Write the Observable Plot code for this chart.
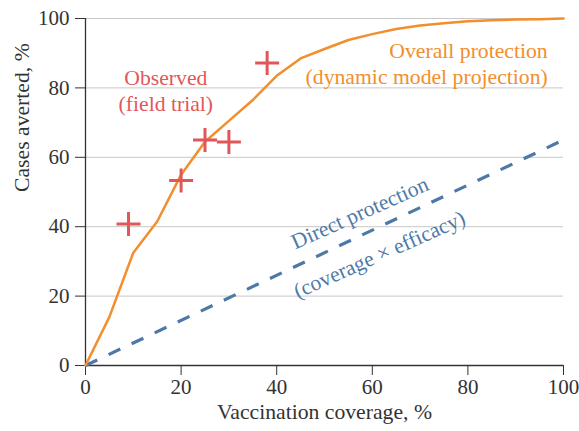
<!DOCTYPE html>
<html>
<head>
<meta charset="utf-8">
<script src="https://cdn.jsdelivr.net/npm/d3@7"></script>
<script src="https://cdn.jsdelivr.net/npm/@observablehq/plot@0.6"></script>
<style>
  html, body { margin: 0; padding: 0; background: #fff; }
  svg { display: block; }
  svg, svg text, svg g { font-family: "Times New Roman", Tinos, "Liberation Serif", "DejaVu Serif", "Noto Serif", serif !important; }
</style>
</head>
<body>
<div id="chart"></div>
<script>
// Overall protection (dynamic model projection)
const coverage = [0, 5, 10, 15, 20, 25, 30, 35, 40, 45, 50, 55, 60, 65, 70, 75, 80, 85, 90, 95, 100];
const overall  = [0, 14, 32.5, 41.5, 55, 64.5, 70.5, 76.5, 83.5, 88.5, 91.2, 93.8, 95.5, 97, 98, 98.6, 99.2, 99.5, 99.7, 99.8, 100];
// Direct protection (coverage x efficacy)
const directX = [0, 100];
const directY = [0, 65];
// Observed (field trial)
const obsX = [9, 20, 25, 30, 38];
const obsY = [40.8, 53.3, 65, 64.4, 87.2];
// Ticks
const xTicks = [0, 20, 40, 60, 80, 100];
const yTicks = [0, 20, 40, 60, 80, 100];
const gridTicks = [20, 40, 60, 80, 100];
// Labels
const xLabel = "Vaccination coverage, %";
const yLabel = "Cases averted, %";
const overallLabel = "Overall protection\n(dynamic model projection)";
const observedLabel = "Observed\n(field trial)";
const directLabel1 = "Direct protection";
const directLabel2 = "(coverage \u00d7 efficacy)";

const ORANGE = "#f28e2b", RED = "#e15759", BLUE = "#4e79a7";
const FONT = "'Times New Roman', Tinos, 'Liberation Serif', 'DejaVu Serif', 'Noto Serif', serif";
const FS = 21.7;

const overallData = coverage.map((c, i) => ({x: c, y: overall[i]}));
const directData = directX.map((c, i) => ({x: c, y: directY[i]}));
const obsData = obsX.map((c, i) => ({x: c, y: obsY[i]}));

const plusSymbol = {
  draw(context, size) {
    const r = Math.sqrt(size / Math.PI);
    context.moveTo(-r, 0); context.lineTo(r, 0);
    context.moveTo(0, -r); context.lineTo(0, r);
  }
};

const chart = Plot.plot({
  width: 579,
  height: 431,
  marginLeft: 85,
  marginRight: 16,
  marginTop: 18,
  marginBottom: 66,
  style: {fontFamily: FONT, fontSize: "21px", color: "#333", background: "#fff"},
  x: {domain: [0, 100], ticks: xTicks, tickSize: 10, tickPadding: 4, label: null},
  y: {domain: [0, 100], ticks: yTicks, tickSize: 10, tickPadding: 6, label: null},
  marks: [
    Plot.ruleY(gridTicks, {stroke: "#c8c8c8", strokeWidth: 1}),
    Plot.ruleY([0], {stroke: "#333", strokeWidth: 1.3}),
    Plot.ruleX([0], {stroke: "#333", strokeWidth: 1.3}),
    Plot.line(directData, {x: "x", y: "y", stroke: BLUE, strokeWidth: 3.2, strokeDasharray: "13,12.5", strokeLinecap: "butt"}),
    Plot.line(overallData, {x: "x", y: "y", stroke: ORANGE, strokeWidth: 2.5}),
    Plot.dot(obsData, {x: "x", y: "y", symbol: plusSymbol, r: 12, fill: "none", stroke: RED, strokeWidth: 3, strokeLinecap: "butt"}),
    Plot.text([observedLabel], {x: 16.8, y: 79.5, text: d => d, fill: RED, textAnchor: "middle", lineHeight: 1.2, fontSize: FS}),
    Plot.text([overallLabel], {x: 96.7, y: 87.4, text: d => d, fill: ORANGE, textAnchor: "end", lineHeight: 1.2, fontSize: FS}),
    Plot.text([directLabel1], {x: 43.9, y: 34.6, text: d => d, fill: BLUE, textAnchor: "start", lineAnchor: "bottom", rotate: -24, fontSize: FS, dy: 4}),
    Plot.text([directLabel2], {x: 44.4, y: 20.4, text: d => d, fill: BLUE, textAnchor: "start", lineAnchor: "bottom", rotate: -24, fontSize: FS, dy: 4}),
    Plot.text([xLabel], {frameAnchor: "bottom", text: d => d, dy: 53, fill: "#333", fontSize: FS}),
    Plot.text([yLabel], {frameAnchor: "left", text: d => d, dx: -63, rotate: -90, fill: "#333", fontSize: FS})
  ]
});
document.getElementById("chart").appendChild(chart);
</script>
</body>
</html>
